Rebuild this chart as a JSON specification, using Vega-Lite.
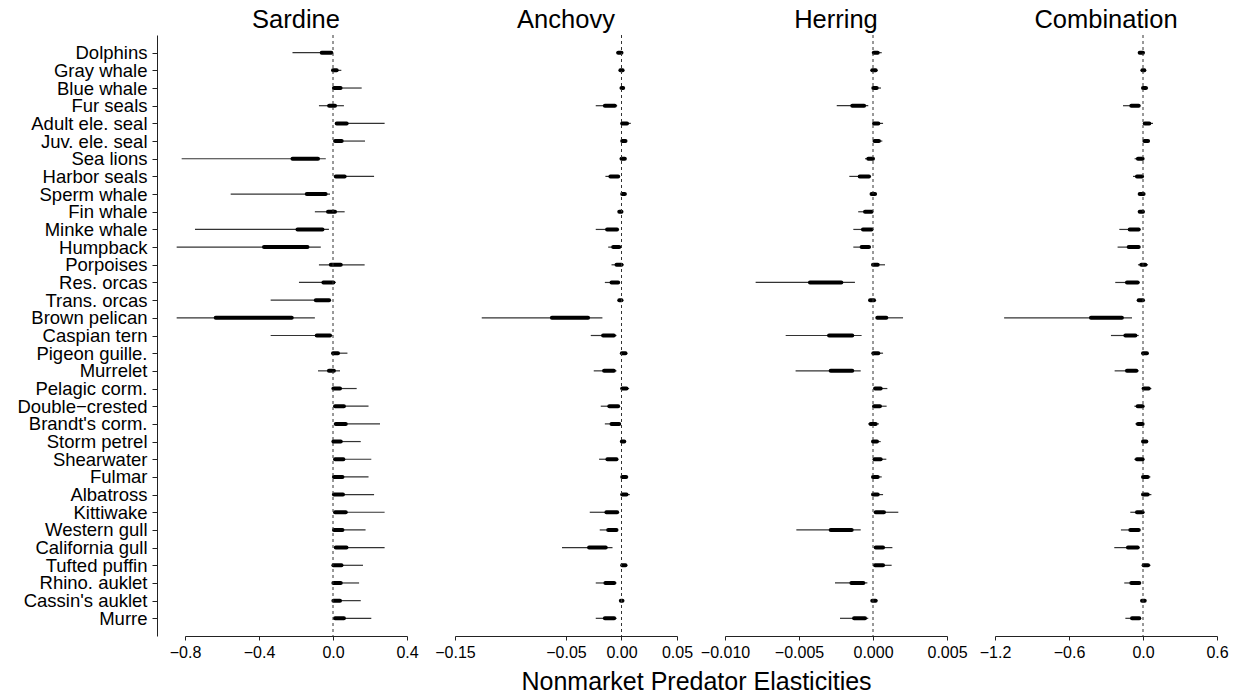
{
  "$schema": "https://vega.github.io/schema/vega-lite/v6.json",
  "padding": {"left": 16, "top": 8, "right": 5, "bottom": 5},
  "background": "white",
  "title": {"text": "Nonmarket Predator Elasticities", "orient": "bottom", "anchor": "middle", "fontSize": 25, "baseline": "top", "offset": 10, "dx": 74},
  "datasets": {
    "sardine": [
      {"predator": "Dolphins", "low": -0.219, "q25": -0.061, "q75": -0.009, "high": 0.0},
      {"predator": "Gray whale", "low": 0.0, "q25": 0.0, "q75": 0.02, "high": 0.045},
      {"predator": "Blue whale", "low": 0.005, "q25": 0.005, "q75": 0.041, "high": 0.155},
      {"predator": "Fur seals", "low": -0.076, "q25": -0.021, "q75": 0.011, "high": 0.059},
      {"predator": "Adult ele. seal", "low": 0.011, "q25": 0.02, "q75": 0.074, "high": 0.279},
      {"predator": "Juv. ele. seal", "low": 0.011, "q25": 0.011, "q75": 0.047, "high": 0.173},
      {"predator": "Sea lions", "low": -0.818, "q25": -0.219, "q75": -0.081, "high": -0.039},
      {"predator": "Harbor seals", "low": 0.011, "q25": 0.015, "q75": 0.063, "high": 0.222},
      {"predator": "Sperm whale", "low": -0.553, "q25": -0.142, "q75": -0.04, "high": -0.016},
      {"predator": "Fin whale", "low": -0.098, "q25": -0.027, "q75": 0.011, "high": 0.063},
      {"predator": "Minke whale", "low": -0.746, "q25": -0.192, "q75": -0.057, "high": -0.022},
      {"predator": "Humpback", "low": -0.845, "q25": -0.373, "q75": -0.138, "high": -0.066},
      {"predator": "Porpoises", "low": -0.076, "q25": -0.012, "q75": 0.042, "high": 0.171},
      {"predator": "Res. orcas", "low": -0.184, "q25": -0.052, "q75": 0.002, "high": 0.015},
      {"predator": "Trans. orcas", "low": -0.337, "q25": -0.093, "q75": -0.021, "high": -0.012},
      {"predator": "Brown pelican", "low": -0.845, "q25": -0.634, "q75": -0.223, "high": -0.098},
      {"predator": "Caspian tern", "low": -0.337, "q25": -0.088, "q75": -0.016, "high": -0.003},
      {"predator": "Pigeon guille.", "low": 0.0, "q25": 0.0, "q75": 0.027, "high": 0.078},
      {"predator": "Murrelet", "low": -0.081, "q25": -0.022, "q75": 0.005, "high": 0.038},
      {"predator": "Pelagic corm.", "low": 0.002, "q25": 0.002, "q75": 0.038, "high": 0.128},
      {"predator": "Double−crested", "low": 0.005, "q25": 0.011, "q75": 0.059, "high": 0.192},
      {"predator": "Brandt's corm.", "low": 0.005, "q25": 0.015, "q75": 0.069, "high": 0.254},
      {"predator": "Storm petrel", "low": 0.002, "q25": 0.002, "q75": 0.042, "high": 0.15},
      {"predator": "Shearwater", "low": 0.005, "q25": 0.011, "q75": 0.056, "high": 0.207},
      {"predator": "Fulmar", "low": 0.002, "q25": 0.005, "q75": 0.051, "high": 0.192},
      {"predator": "Albatross", "low": 0.002, "q25": 0.005, "q75": 0.054, "high": 0.222},
      {"predator": "Kittiwake", "low": 0.005, "q25": 0.011, "q75": 0.069, "high": 0.279},
      {"predator": "Western gull", "low": 0.002, "q25": 0.005, "q75": 0.051, "high": 0.176},
      {"predator": "California gull", "low": 0.005, "q25": 0.015, "q75": 0.073, "high": 0.279},
      {"predator": "Tufted puffin", "low": 0.002, "q25": 0.002, "q75": 0.046, "high": 0.162},
      {"predator": "Rhino. auklet", "low": 0.002, "q25": 0.002, "q75": 0.042, "high": 0.141},
      {"predator": "Cassin's auklet", "low": 0.002, "q25": 0.002, "q75": 0.038, "high": 0.15},
      {"predator": "Murre", "low": 0.005, "q25": 0.011, "q75": 0.059, "high": 0.207}
    ],
    "anchovy": [
      {"predator": "Dolphins", "low": -0.0045, "q25": -0.003, "q75": 0.0, "high": 0.0},
      {"predator": "Gray whale", "low": -0.0015, "q25": -0.001, "q75": 0.001, "high": 0.0015},
      {"predator": "Blue whale", "low": -0.0015, "q25": 0.0, "q75": 0.0015, "high": 0.002},
      {"predator": "Fur seals", "low": -0.0232, "q25": -0.015, "q75": -0.006, "high": -0.0039},
      {"predator": "Adult ele. seal", "low": 0.0, "q25": 0.0006, "q75": 0.005, "high": 0.0084},
      {"predator": "Juv. ele. seal", "low": 0.0, "q25": 0.0006, "q75": 0.0036, "high": 0.0045},
      {"predator": "Sea lions", "low": -0.0015, "q25": 0.0, "q75": 0.003, "high": 0.0036},
      {"predator": "Harbor seals", "low": -0.0145, "q25": -0.01, "q75": -0.003, "high": -0.0015},
      {"predator": "Sperm whale", "low": 0.0, "q25": 0.0006, "q75": 0.003, "high": 0.0045},
      {"predator": "Fin whale", "low": -0.003, "q25": -0.002, "q75": 0.0, "high": 0.001},
      {"predator": "Minke whale", "low": -0.0232, "q25": -0.013, "q75": -0.004, "high": -0.003},
      {"predator": "Humpback", "low": -0.012, "q25": -0.0075, "q75": -0.002, "high": -0.0015},
      {"predator": "Porpoises", "low": -0.009, "q25": -0.0045, "q75": 0.0, "high": 0.002},
      {"predator": "Res. orcas", "low": -0.015, "q25": -0.009, "q75": -0.003, "high": -0.002},
      {"predator": "Trans. orcas", "low": -0.003, "q25": -0.002, "q75": 0.0, "high": 0.0006},
      {"predator": "Brown pelican", "low": -0.1259, "q25": -0.0627, "q75": -0.0301, "high": -0.0172},
      {"predator": "Caspian tern", "low": -0.0277, "q25": -0.0166, "q75": -0.0069, "high": -0.0045},
      {"predator": "Pigeon guille.", "low": -0.0006, "q25": 0.0003, "q75": 0.0036, "high": 0.004},
      {"predator": "Murrelet", "low": -0.025, "q25": -0.0157, "q75": -0.0069, "high": -0.0045},
      {"predator": "Pelagic corm.", "low": 0.0, "q25": 0.0006, "q75": 0.0045, "high": 0.0069},
      {"predator": "Double−crested", "low": -0.0187, "q25": -0.011, "q75": -0.003, "high": -0.002},
      {"predator": "Brandt's corm.", "low": -0.015, "q25": -0.009, "q75": -0.002, "high": -0.0015},
      {"predator": "Storm petrel", "low": -0.0006, "q25": 0.0003, "q75": 0.0025, "high": 0.003},
      {"predator": "Shearwater", "low": -0.0202, "q25": -0.0127, "q75": -0.0045, "high": -0.0036},
      {"predator": "Fulmar", "low": 0.0, "q25": 0.0006, "q75": 0.0042, "high": 0.006},
      {"predator": "Albatross", "low": 0.0, "q25": 0.0006, "q75": 0.0045, "high": 0.0075},
      {"predator": "Kittiwake", "low": -0.0286, "q25": -0.0136, "q75": -0.0039, "high": -0.003},
      {"predator": "Western gull", "low": -0.0196, "q25": -0.012, "q75": -0.0045, "high": -0.0036},
      {"predator": "California gull", "low": -0.0536, "q25": -0.0292, "q75": -0.0142, "high": -0.0081},
      {"predator": "Tufted puffin", "low": 0.0, "q25": 0.0006, "q75": 0.0036, "high": 0.0045},
      {"predator": "Rhino. auklet", "low": -0.0232, "q25": -0.0145, "q75": -0.0066, "high": -0.0045},
      {"predator": "Cassin's auklet", "low": -0.0012, "q25": -0.0006, "q75": 0.0009, "high": 0.0015},
      {"predator": "Murre", "low": -0.0232, "q25": -0.015, "q75": -0.0066, "high": -0.0045}
    ],
    "herring": [
      {"predator": "Dolphins", "low": 0.0, "q25": 0.00005, "q75": 0.00032, "high": 0.00059},
      {"predator": "Gray whale", "low": -0.0001, "q25": -0.00005, "q75": 0.00018, "high": 0.0003},
      {"predator": "Blue whale", "low": 0.0, "q25": 0.00002, "q75": 0.00025, "high": 0.00054},
      {"predator": "Fur seals", "low": -0.00245, "q25": -0.0014, "q75": -0.0006, "high": -0.00032},
      {"predator": "Adult ele. seal", "low": 0.0, "q25": 0.00007, "q75": 0.00036, "high": 0.00068},
      {"predator": "Juv. ele. seal", "low": 0.0, "q25": 0.0001, "q75": 0.0004, "high": 0.00063},
      {"predator": "Sea lions", "low": -0.00054, "q25": -0.00032, "q75": 0.0, "high": 0.00007},
      {"predator": "Harbor seals", "low": -0.0016, "q25": -0.0009, "q75": -0.00027, "high": -0.00016},
      {"predator": "Sperm whale", "low": -0.00016, "q25": -0.0001, "q75": 0.00014, "high": 0.00023},
      {"predator": "Fin whale", "low": -0.001, "q25": -0.00054, "q75": -0.0001, "high": -0.00005},
      {"predator": "Minke whale", "low": -0.00133, "q25": -0.00068, "q75": -0.0001, "high": -0.00005},
      {"predator": "Humpback", "low": -0.00133, "q25": -0.00077, "q75": -0.00027, "high": -0.00016},
      {"predator": "Porpoises", "low": -0.0001, "q25": 0.0, "q75": 0.00032, "high": 0.00081},
      {"predator": "Res. orcas", "low": -0.00793, "q25": -0.00426, "q75": -0.00214, "high": -0.00122},
      {"predator": "Trans. orcas", "low": -0.00027, "q25": -0.0002, "q75": 0.00007, "high": 0.00014},
      {"predator": "Brown pelican", "low": 0.00023, "q25": 0.00029, "q75": 0.0009, "high": 0.00203},
      {"predator": "Caspian tern", "low": -0.0059, "q25": -0.00297, "q75": -0.0014, "high": -0.00077},
      {"predator": "Pigeon guille.", "low": 0.0, "q25": 0.00002, "q75": 0.00036, "high": 0.00068},
      {"predator": "Murrelet", "low": -0.00523, "q25": -0.00286, "q75": -0.0014, "high": -0.00083},
      {"predator": "Pelagic corm.", "low": 0.0001, "q25": 0.00014, "q75": 0.00052, "high": 0.00097},
      {"predator": "Double−crested", "low": 0.00002, "q25": 0.00007, "q75": 0.00047, "high": 0.00092},
      {"predator": "Brandt's corm.", "low": -0.00032, "q25": -0.00016, "q75": 0.00018, "high": 0.0004},
      {"predator": "Storm petrel", "low": -0.00005, "q25": 0.0, "q75": 0.00027, "high": 0.00052},
      {"predator": "Shearwater", "low": 0.0, "q25": 0.0001, "q75": 0.00052, "high": 0.0009},
      {"predator": "Fulmar", "low": -0.00005, "q25": 0.0, "q75": 0.00032, "high": 0.00059},
      {"predator": "Albatross", "low": -0.00005, "q25": 0.0, "q75": 0.00032, "high": 0.00068},
      {"predator": "Kittiwake", "low": 0.0001, "q25": 0.00018, "q75": 0.00074, "high": 0.00171},
      {"predator": "Western gull", "low": -0.00518, "q25": -0.00286, "q75": -0.00144, "high": -0.00083},
      {"predator": "California gull", "low": 0.0001, "q25": 0.00018, "q75": 0.00068, "high": 0.00131},
      {"predator": "Tufted puffin", "low": 0.0001, "q25": 0.00014, "q75": 0.00068, "high": 0.00126},
      {"predator": "Rhino. auklet", "low": -0.00257, "q25": -0.00146, "q75": -0.00065, "high": -0.00038},
      {"predator": "Cassin's auklet", "low": -0.0001, "q25": -0.00005, "q75": 0.00018, "high": 0.0003},
      {"predator": "Murre", "low": -0.00223, "q25": -0.00128, "q75": -0.00054, "high": -0.00032}
    ],
    "combination": [
      {"predator": "Dolphins", "low": -0.035, "q25": -0.027, "q75": 0.0, "high": 0.008},
      {"predator": "Gray whale", "low": -0.008, "q25": -0.005, "q75": 0.011, "high": 0.019},
      {"predator": "Blue whale", "low": 0.0, "q25": 0.0, "q75": 0.024, "high": 0.041},
      {"predator": "Fur seals", "low": -0.162, "q25": -0.095, "q75": -0.035, "high": -0.022},
      {"predator": "Adult ele. seal", "low": 0.008, "q25": 0.014, "q75": 0.051, "high": 0.081},
      {"predator": "Juv. ele. seal", "low": 0.005, "q25": 0.011, "q75": 0.041, "high": 0.051},
      {"predator": "Sea lions", "low": -0.068, "q25": -0.041, "q75": -0.003, "high": 0.005},
      {"predator": "Harbor seals", "low": -0.081, "q25": -0.049, "q75": -0.008, "high": 0.005},
      {"predator": "Sperm whale", "low": -0.041, "q25": -0.027, "q75": 0.005, "high": 0.008},
      {"predator": "Fin whale", "low": -0.041, "q25": -0.027, "q75": 0.0, "high": 0.005},
      {"predator": "Minke whale", "low": -0.192, "q25": -0.108, "q75": -0.035, "high": -0.022},
      {"predator": "Humpback", "low": -0.206, "q25": -0.116, "q75": -0.035, "high": -0.022},
      {"predator": "Porpoises", "low": -0.041, "q25": -0.014, "q75": 0.019, "high": 0.041},
      {"predator": "Res. orcas", "low": -0.225, "q25": -0.13, "q75": -0.043, "high": -0.027},
      {"predator": "Trans. orcas", "low": -0.049, "q25": -0.035, "q75": 0.0, "high": 0.005},
      {"predator": "Brown pelican", "low": -1.126, "q25": -0.422, "q75": -0.171, "high": -0.089},
      {"predator": "Caspian tern", "low": -0.26, "q25": -0.143, "q75": -0.062, "high": -0.035},
      {"predator": "Pigeon guille.", "low": -0.003, "q25": 0.0, "q75": 0.032, "high": 0.041},
      {"predator": "Murrelet", "low": -0.23, "q25": -0.13, "q75": -0.054, "high": -0.035},
      {"predator": "Pelagic corm.", "low": 0.0, "q25": 0.005, "q75": 0.046, "high": 0.068},
      {"predator": "Double−crested", "low": -0.07, "q25": -0.043, "q75": -0.003, "high": 0.005},
      {"predator": "Brandt's corm.", "low": -0.062, "q25": -0.041, "q75": -0.003, "high": 0.005},
      {"predator": "Storm petrel", "low": -0.003, "q25": 0.0, "q75": 0.027, "high": 0.038},
      {"predator": "Shearwater", "low": -0.07, "q25": -0.049, "q75": -0.003, "high": 0.005},
      {"predator": "Fulmar", "low": -0.003, "q25": 0.0, "q75": 0.038, "high": 0.06},
      {"predator": "Albatross", "low": -0.003, "q25": 0.0, "q75": 0.038, "high": 0.068},
      {"predator": "Kittiwake", "low": -0.103, "q25": -0.049, "q75": -0.003, "high": 0.005},
      {"predator": "Western gull", "low": -0.179, "q25": -0.103, "q75": -0.035, "high": -0.022},
      {"predator": "California gull", "low": -0.233, "q25": -0.122, "q75": -0.043, "high": -0.027},
      {"predator": "Tufted puffin", "low": 0.0, "q25": 0.005, "q75": 0.041, "high": 0.06},
      {"predator": "Rhino. auklet", "low": -0.152, "q25": -0.095, "q75": -0.03, "high": -0.022},
      {"predator": "Cassin's auklet", "low": -0.011, "q25": -0.008, "q75": 0.014, "high": 0.022},
      {"predator": "Murre", "low": -0.143, "q25": -0.089, "q75": -0.03, "high": -0.016}
    ]
  },
  "hconcat": [
    {
      "data": {"name": "sardine"},
      "width": 222, "height": 601,
      "title": {"text": "Sardine", "fontSize": 25.5, "baseline": "alphabetic", "offset": -19},
      "layer": [
        {"mark": {"type": "rule", "strokeWidth": 1.2, "color": "#333"},
         "encoding": {
           "y": {"field": "predator", "type": "nominal", "sort": null, "scale": {"type": "point", "padding": 1}, "axis": {"title": null, "offset": 28, "tickSize": 5, "labelFontSize": 18.5, "labelPadding": 5, "domainColor": "#222", "tickColor": "#222"}},
           "x": {"field": "low", "type": "quantitative", "scale": {"domain": [-0.8, 0.4], "nice": false, "zero": false}, "axis": {"title": null, "values": [-0.8, -0.4, 0, 0.4], "format": ".1f", "labelFontSize": 16, "tickSize": 4, "labelPadding": 4, "labelFlush": false, "labelOverlap": false}},
           "x2": {"field": "high"}}},
        {"mark": {"type": "rule", "strokeWidth": 4, "color": "#000", "strokeCap": "round"},
         "encoding": {
           "y": {"field": "predator", "type": "nominal", "sort": null, "scale": {"type": "point", "padding": 1}, "axis": {"title": null, "offset": 28, "tickSize": 5, "labelFontSize": 18.5, "labelPadding": 5, "domainColor": "#222", "tickColor": "#222"}},
           "x": {"field": "q25", "type": "quantitative"},
           "x2": {"field": "q75"}}},
        {"data": {"values": [{}]},
         "mark": {"type": "rule", "strokeDash": [3, 3], "color": "#333", "strokeWidth": 1},
         "encoding": {"x": {"datum": 0, "type": "quantitative"}}}
      ]
    },
    {
      "data": {"name": "anchovy"},
      "width": 222, "height": 601,
      "title": {"text": "Anchovy", "fontSize": 25.5, "baseline": "alphabetic", "offset": -19},
      "layer": [
        {"mark": {"type": "rule", "strokeWidth": 1.2, "color": "#333"},
         "encoding": {
           "y": {"field": "predator", "type": "nominal", "sort": null, "scale": {"type": "point", "padding": 1}, "axis": null},
           "x": {"field": "low", "type": "quantitative", "scale": {"domain": [-0.15, 0.05], "nice": false, "zero": false}, "axis": {"title": null, "values": [-0.15, -0.05, 0, 0.05], "format": ".2f", "labelFontSize": 16, "tickSize": 4, "labelPadding": 4, "labelFlush": false, "labelOverlap": false}},
           "x2": {"field": "high"}}},
        {"mark": {"type": "rule", "strokeWidth": 4, "color": "#000", "strokeCap": "round"},
         "encoding": {
           "y": {"field": "predator", "type": "nominal", "sort": null, "scale": {"type": "point", "padding": 1}, "axis": null},
           "x": {"field": "q25", "type": "quantitative"},
           "x2": {"field": "q75"}}},
        {"data": {"values": [{}]},
         "mark": {"type": "rule", "strokeDash": [3, 3], "color": "#333", "strokeWidth": 1},
         "encoding": {"x": {"datum": 0, "type": "quantitative"}}}
      ]
    },
    {
      "data": {"name": "herring"},
      "width": 222, "height": 601,
      "title": {"text": "Herring", "fontSize": 25.5, "baseline": "alphabetic", "offset": -19},
      "layer": [
        {"mark": {"type": "rule", "strokeWidth": 1.2, "color": "#333"},
         "encoding": {
           "y": {"field": "predator", "type": "nominal", "sort": null, "scale": {"type": "point", "padding": 1}, "axis": null},
           "x": {"field": "low", "type": "quantitative", "scale": {"domain": [-0.01, 0.005], "nice": false, "zero": false}, "axis": {"title": null, "values": [-0.01, -0.005, 0, 0.005], "format": ".3f", "labelFontSize": 16, "tickSize": 4, "labelPadding": 4, "labelFlush": false, "labelOverlap": false}},
           "x2": {"field": "high"}}},
        {"mark": {"type": "rule", "strokeWidth": 4, "color": "#000", "strokeCap": "round"},
         "encoding": {
           "y": {"field": "predator", "type": "nominal", "sort": null, "scale": {"type": "point", "padding": 1}, "axis": null},
           "x": {"field": "q25", "type": "quantitative"},
           "x2": {"field": "q75"}}},
        {"data": {"values": [{}]},
         "mark": {"type": "rule", "strokeDash": [3, 3], "color": "#333", "strokeWidth": 1},
         "encoding": {"x": {"datum": 0, "type": "quantitative"}}}
      ]
    },
    {
      "data": {"name": "combination"},
      "width": 222, "height": 601,
      "title": {"text": "Combination", "fontSize": 25.5, "baseline": "alphabetic", "offset": -19},
      "layer": [
        {"mark": {"type": "rule", "strokeWidth": 1.2, "color": "#333"},
         "encoding": {
           "y": {"field": "predator", "type": "nominal", "sort": null, "scale": {"type": "point", "padding": 1}, "axis": null},
           "x": {"field": "low", "type": "quantitative", "scale": {"domain": [-1.2, 0.6], "nice": false, "zero": false}, "axis": {"title": null, "values": [-1.2, -0.6, 0, 0.6], "format": ".1f", "labelFontSize": 16, "tickSize": 4, "labelPadding": 4, "labelFlush": false, "labelOverlap": false}},
           "x2": {"field": "high"}}},
        {"mark": {"type": "rule", "strokeWidth": 4, "color": "#000", "strokeCap": "round"},
         "encoding": {
           "y": {"field": "predator", "type": "nominal", "sort": null, "scale": {"type": "point", "padding": 1}, "axis": null},
           "x": {"field": "q25", "type": "quantitative"},
           "x2": {"field": "q75"}}},
        {"data": {"values": [{}]},
         "mark": {"type": "rule", "strokeDash": [3, 3], "color": "#333", "strokeWidth": 1},
         "encoding": {"x": {"datum": 0, "type": "quantitative"}}}
      ]
    }
  ],
  "spacing": 48,
  "bounds": "flush",
  "config": {
    "font": "Liberation Sans",
    "view": {"stroke": null},
    "axis": {"grid": false, "domainColor": "#222", "tickColor": "#222", "labelColor": "#000", "labelFont": "Liberation Sans", "domainWidth": 1, "tickWidth": 1},
    "title": {"font": "Liberation Sans", "fontWeight": "normal", "color": "#000"}
  }
}
